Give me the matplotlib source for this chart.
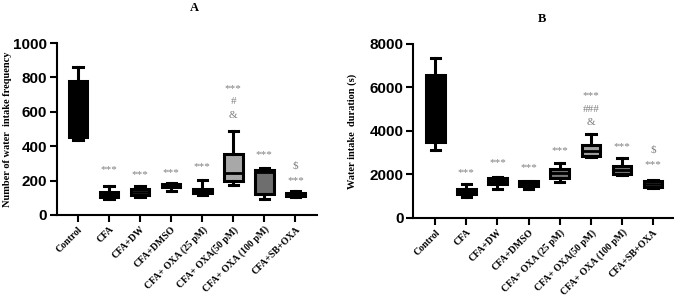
import matplotlib
matplotlib.use("Agg")
import matplotlib.pyplot as plt

groups = ["Control", "CFA", "CFA+DW", "CFA+DMSO", "CFA+ OXA (25 pM)",
          "CFA+ OXA(50 pM)", "CFA+ OXA (100 pM)", "CFA+SB+OXA"]

# Panel A: number of water intake frequency (min, q1, median, q3, max)
a_min = [436, 91, 106, 140, 114, 173, 91, 103]
a_q1 = [455, 103, 116, 160, 126, 198, 122, 110]
a_med = [600, 120, 133, 170, 140, 246, 250, 118]
a_q3 = [781, 134, 151, 182, 153, 355, 262, 126]
a_max = [862, 169, 169, 188, 203, 488, 275, 140]
a_fill = ["#000000", "#000000", "#e0e0e0", "#000000", "#000000", "#a8a8a8", "#6e6e6e", "#ffffff"]
a_ann = [[], [("***", 262)], [("***", 233)], [("***", 246)], [("***", 281)],
         [("***", 737), ("#", 659), ("&", 581)], [("***", 349)], [("$", 287), ("***", 198)]]

# Panel B: water intake duration (s)
b_min = [3130, 980, 1330, 1320, 1660, 2820, 1980, 1380]
b_q1 = [3500, 1090, 1560, 1470, 1850, 2860, 2020, 1410]
b_med = [5000, 1200, 1700, 1560, 2050, 3100, 2200, 1560]
b_q3 = [6580, 1330, 1830, 1680, 2250, 3360, 2400, 1700]
b_max = [7370, 1550, 1890, 1700, 2530, 3850, 2770, 1730]
b_fill = ["#000000", "#000000", "#000000", "#000000", "#777777", "#a0a0a0", "#777777", "#ffffff"]
b_ann = [[], [("***", 2080)], [("***", 2540)], [("***", 2310)], [("***", 3080)],
         [("***", 5610), ("###", 5000), ("&", 4380)], [("***", 3280)], [("$", 3130), ("***", 2440)]]

SERIF = "Liberation Serif"
SANS = "Liberation Sans"

fig = plt.figure(figsize=(6.74, 2.99), dpi=100)


def panel(rect, mins, q1s, meds, q3s, maxs, fills, anns, ymax, yticks, ylabel, title, title_y, xlim):
    ax = fig.add_axes(rect)
    stats = []
    for i in range(len(groups)):
        stats.append(dict(whislo=mins[i], q1=q1s[i], med=meds[i], q3=q3s[i], whishi=maxs[i], fliers=[]))
    bp = ax.bxp(stats, positions=list(range(len(groups))), widths=0.6, patch_artist=True,
                showfliers=False,
                boxprops=dict(linewidth=2.2, edgecolor="black"),
                medianprops=dict(color="black", linewidth=2.0),
                whiskerprops=dict(color="black", linewidth=2.2),
                capprops=dict(color="black", linewidth=2.2))
    for patch, c in zip(bp["boxes"], fills):
        patch.set_facecolor(c)
    for i, lst in enumerate(anns):
        for txt, yv in lst:
            ax.text(i, yv, txt, ha="center", va="center", color="#808080",
                    fontsize=8, family=SERIF)
    ax.set_ylim(0, ymax)
    ax.set_xlim(*xlim)
    ax.set_yticks(yticks)
    ax.set_yticklabels([str(t) for t in yticks], fontsize=11, fontweight="bold", family=SANS)
    ax.set_xticks(range(len(groups)))
    ax.set_xticklabels(groups, rotation=45, ha="right", rotation_mode="anchor",
                       fontsize=7, fontweight="bold", family=SERIF)
    for s in ["top", "right"]:
        ax.spines[s].set_visible(False)
    for s in ["left", "bottom"]:
        ax.spines[s].set_linewidth(1.5)
    ax.tick_params(axis="both", length=5, width=1.5, pad=2)
    ax.set_ylabel(ylabel, fontsize=7.5, fontweight="bold", family=SERIF)
    fig.text(title_y[0], title_y[1], title, ha="center", va="center", fontsize=9,
             fontweight="bold", family=SERIF)
    return ax


axA = panel([0.0846, 0.281, 0.385, 0.575], a_min, a_q1, a_med, a_q3, a_max, a_fill, a_ann,
            1000, [0, 200, 400, 600, 800, 1000], "Number of water  intake frequency", "A",
            (0.289, 0.972), (-0.675, 7.68))
axA.yaxis.set_label_coords(-0.175, 0.5)

axB = panel([0.613, 0.271, 0.386, 0.582], b_min, b_q1, b_med, b_q3, b_max, b_fill, b_ann,
            8000, [0, 2000, 4000, 6000, 8000], "Water intake  duration (s)", "B",
            (0.804, 0.936), (-0.71, 7.65))
axB.yaxis.set_label_coords(-0.215, 0.5)

fig.savefig("out.png", dpi=100)
